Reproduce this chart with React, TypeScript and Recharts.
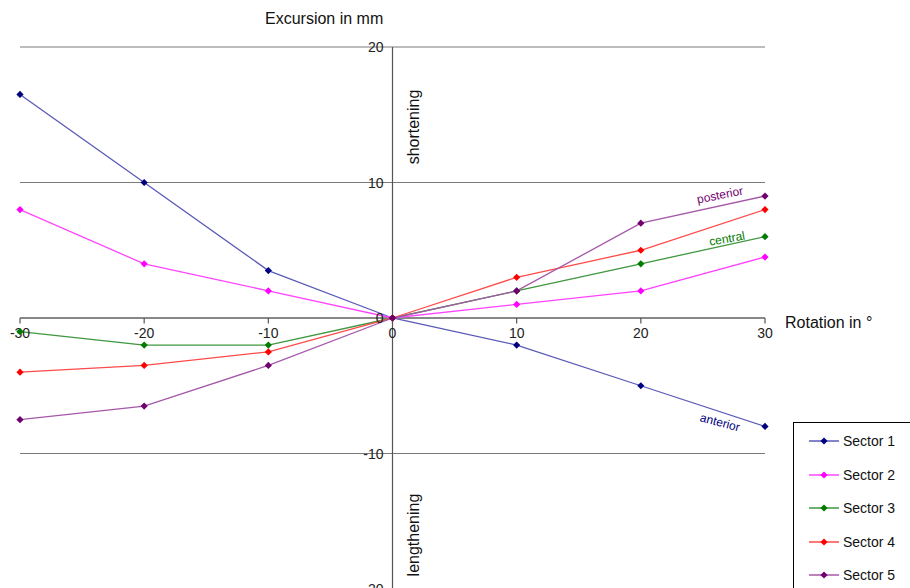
import React from 'react';
import { LineChart, Line, XAxis, YAxis, CartesianGrid, ReferenceLine, ReferenceDot, LabelList } from 'recharts';

const rotations = [-30, -20, -10, 0, 10, 20, 30];
const sector1 = [16.5, 10, 3.5, 0, -2, -5, -8];
const sector2 = [8, 4, 2, 0, 1, 2, 4.5];
const sector3 = [-1, -2, -2, 0, 2, 4, 6];
const sector4 = [-4, -3.5, -2.5, 0, 3, 5, 8];
const sector5 = [-7.5, -6.5, -3.5, 0, 2, 7, 9];

const xTicks = [-30, -20, -10, 0, 10, 20, 30];
const yTicks = [-20, -10, 0, 10, 20];

const series = [
  { key: 's1', name: 'Sector 1', values: sector1, line: '#5a5ab8', mark: '#000080', tag: 'anterior' },
  { key: 's2', name: 'Sector 2', values: sector2, line: '#ff44ff', mark: '#ff00ff', tag: '' },
  { key: 's3', name: 'Sector 3', values: sector3, line: '#3f973f', mark: '#007a00', tag: 'central' },
  { key: 's4', name: 'Sector 4', values: sector4, line: '#ff4a4a', mark: '#ff0000', tag: '' },
  { key: 's5', name: 'Sector 5', values: sector5, line: '#a458a8', mark: '#700070', tag: 'posterior' },
];

// where the little curve names sit relative to the last point
const tagPlace: Record<string, { dx: number; dy: number; rot: number }> = {
  anterior: { dx: -45, dy: -4, rot: 15 },
  central: { dx: -38, dy: 2, rot: -10 },
  posterior: { dx: -45, dy: -1, rot: -11 },
};

const rows = rotations.map((x, i) => {
  const r: any = { x };
  series.forEach((s) => (r[s.key] = s.values[i]));
  return r;
});

const font = 'Arial, "Liberation Sans", sans-serif';

const diamond = (color: string) => (p: any) => {
  const { cx, cy, index } = p;
  const h = 3.6;
  return (
    <path
      key={`d-${color}-${index}`}
      d={`M${cx},${cy - h}L${cx + h},${cy}L${cx},${cy + h}L${cx - h},${cy}Z`}
      fill={color}
    />
  );
};

export default function App() {
  return (
    <div style={{ position: 'absolute', left: 0, top: 0, width: 910, height: 588, overflow: 'hidden', background: '#fff', fontFamily: font }}>
      <LineChart width={910} height={600} data={rows} margin={{ top: 47, right: 145, bottom: 11, left: 20 }}>
        <XAxis type="number" dataKey="x" domain={[-30, 30]} ticks={xTicks} hide />
        <YAxis type="number" domain={[-20, 20]} ticks={yTicks} hide />
        <CartesianGrid vertical={false} stroke="#7a7a7a" strokeWidth={1.2} />
        <ReferenceLine y={0} stroke="#555" strokeWidth={1.2} />
        <ReferenceLine x={0} stroke="#555" strokeWidth={1.2} />
        {xTicks.map((t) => (
          <ReferenceLine key={`xt${t}`} segment={[{ x: t, y: 0 }, { x: t, y: -0.4 }]} stroke="#555" strokeWidth={1.2} />
        ))}
        {xTicks.map((t) => (
          <ReferenceDot
            key={`xl${t}`}
            x={t}
            y={0}
            r={0}
            stroke="none"
            fill="none"
            label={(p: any) => {
              const vb = p.viewBox || {};
              return (
                <text x={vb.x} y={vb.y + 20} textAnchor="middle" fontSize={14} fill="#222" fontFamily={font}>
                  {t}
                </text>
              );
            }}
          />
        ))}
        {yTicks.map((t) => (
          <ReferenceDot
            key={`yl${t}`}
            x={0}
            y={t}
            r={0}
            stroke="none"
            fill="none"
            label={(p: any) => {
              const vb = p.viewBox || {};
              return (
                <text x={vb.x - 9} y={vb.y + 5} textAnchor="end" fontSize={14} fill="#222" fontFamily={font}>
                  {t}
                </text>
              );
            }}
          />
        ))}
        {series.map((s) => (
          <Line
            key={s.key}
            dataKey={s.key}
            name={s.name}
            type="linear"
            stroke={s.line}
            strokeWidth={1.3}
            dot={diamond(s.mark)}
            activeDot={false}
            isAnimationActive={false}
          >
            {s.tag && (
              <LabelList
                dataKey={s.key}
                content={(p: any) => {
                  if (p.index !== rotations.length - 1) return null;
                  const pl = tagPlace[s.tag];
                  const tx = p.x + pl.dx;
                  const ty = p.y + pl.dy;
                  return (
                    <text
                      x={tx}
                      y={ty}
                      textAnchor="middle"
                      dominantBaseline="central"
                      fontSize={12}
                      fill={s.mark}
                      fontFamily={font}
                      transform={`rotate(${pl.rot} ${tx} ${ty})`}
                    >
                      {s.tag}
                    </text>
                  );
                }}
              />
            )}
          </Line>
        ))}
      </LineChart>

      <div style={{ position: 'absolute', left: 265, top: 10, fontSize: 16, color: '#111', whiteSpace: 'nowrap' }}>Excursion in mm</div>
      <div style={{ position: 'absolute', left: 785, top: 314, fontSize: 16, color: '#111', whiteSpace: 'nowrap' }}>Rotation in °</div>
      <div style={{ position: 'absolute', left: 414, top: 127, fontSize: 16, color: '#111', whiteSpace: 'nowrap', transform: 'translate(-50%, -50%) rotate(-90deg)' }}>shortening</div>
      <div style={{ position: 'absolute', left: 414, top: 535, fontSize: 16, color: '#111', whiteSpace: 'nowrap', transform: 'translate(-50%, -50%) rotate(-90deg)' }}>lengthening</div>

      <div style={{ position: 'absolute', left: 793, top: 422, width: 140, height: 190, border: '1px solid #000', background: '#fff' }}>
        {series.map((s, i) => (
          <div key={s.key} style={{ position: 'absolute', left: 14, top: 8 + i * 33.5, height: 20, display: 'flex', alignItems: 'center' }}>
            <svg width={32} height={10}>
              <line x1={1} y1={5} x2={31} y2={5} stroke={s.line} strokeWidth={1.5} />
              <path d="M16,1.4L19.6,5L16,8.6L12.4,5Z" fill={s.mark} />
            </svg>
            <span style={{ fontSize: 14, color: '#111', marginLeft: 3 }}>{s.name}</span>
          </div>
        ))}
      </div>
    </div>
  );
}
